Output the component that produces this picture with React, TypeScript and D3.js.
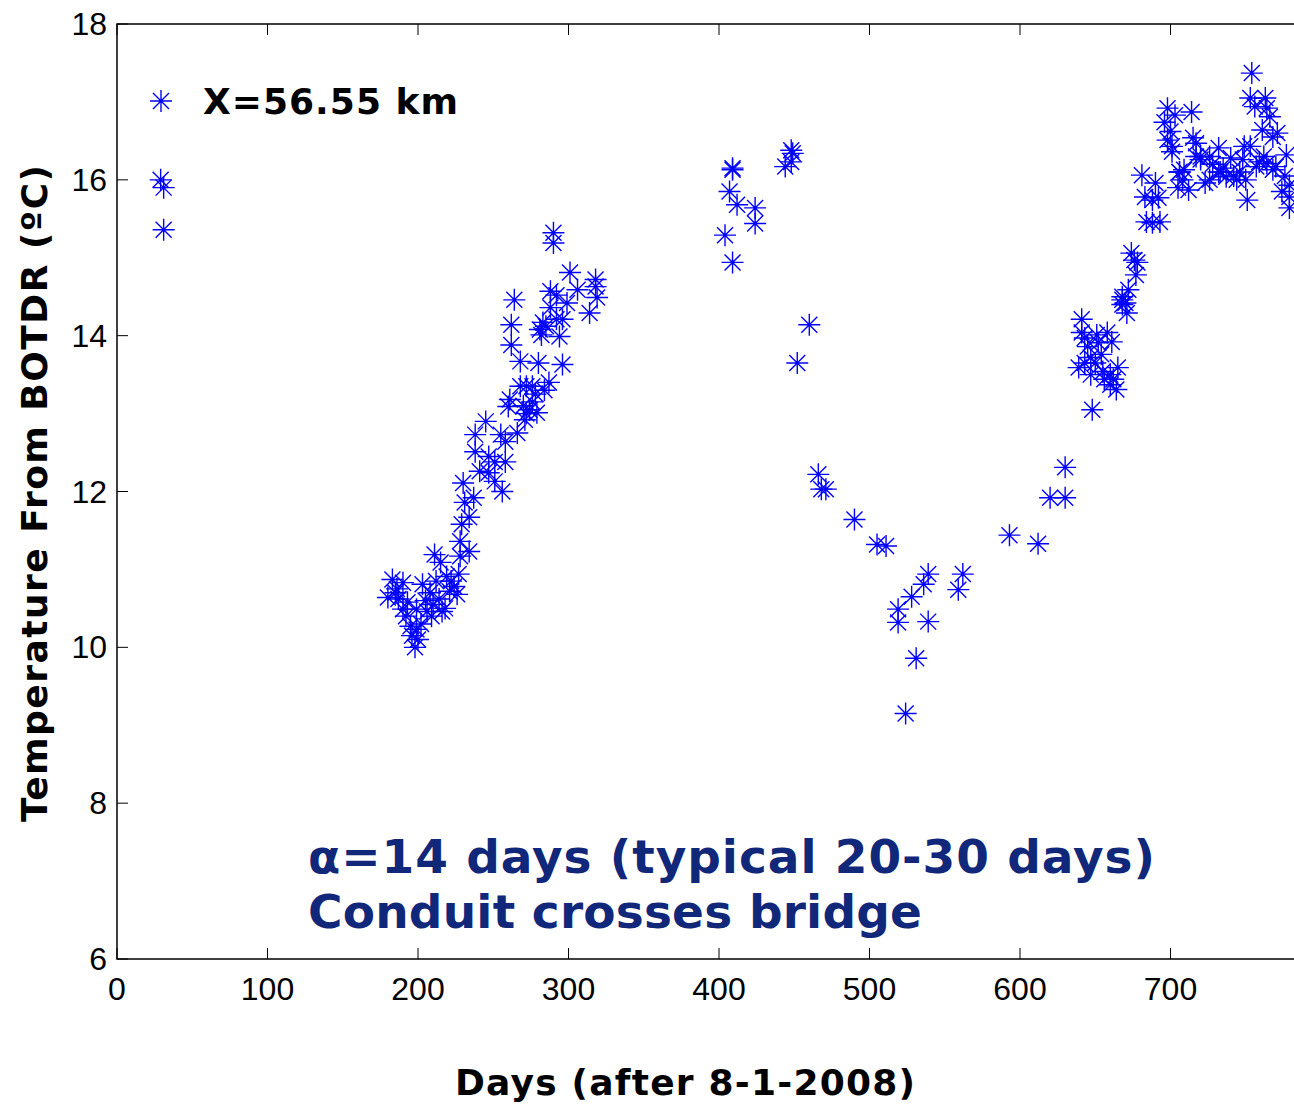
import React from "react";
import * as d3 from "d3";

const xTicks = [0, 100, 200, 300, 400, 500, 600, 700];
const yTicks = [6, 8, 10, 12, 14, 16, 18];

const legendLabel = "X=56.55 km";
const xLabel = "Days (after 8-1-2008)";
const yLabel = "Temperature From BOTDR (ºC)";
const noteLine1 = "α=14 days (typical 20-30 days)";
const noteLine2 = "Conduit crosses bridge";

// Days after 8-1-2008
const days = [
  29, 31, 31,
  180, 183, 187, 190, 190, 193, 195, 199, 199, 200, 198, 203, 206, 208, 212, 215, 216,
  219, 221, 226, 227, 211, 228, 228, 229, 234, 234, 231, 237, 230, 241, 247, 251, 256,
  247, 251, 258, 238, 238, 255, 258, 245, 260, 272, 185, 192, 205, 210, 214, 222, 224,
  202, 196, 218, 186, 209,
  290, 290, 301, 318, 318, 306, 288, 292, 264, 319, 299, 288, 314, 283, 292, 296, 262,
  281, 285, 282, 294, 262, 268, 280, 296, 268, 272, 276, 261, 276, 274, 279, 271, 266,
  284, 278, 270, 287,
  409, 409, 407, 412, 424, 424, 404, 409, 448, 449, 448, 444, 460, 452,
  466, 468, 471, 490, 505, 511, 539, 536, 528, 562, 559, 519, 519, 539, 531, 524,
  593, 612, 620, 630, 630,
  641, 641, 643, 651, 658, 661, 645, 652, 647, 654, 639, 643, 650, 647, 655, 660, 665,
  656, 662, 660, 664, 648, 668, 671, 668,
  681, 690, 683, 692, 688, 684, 693, 688, 706, 709, 705, 712, 708, 723, 720, 726, 732,
  737, 744, 750, 751, 759, 768, 774, 779, 701, 674, 676, 678, 677, 672, 668, 670,
  754, 698, 703, 714, 753, 763, 756, 764, 766, 696, 700, 698, 701, 761, 768, 771, 777,
  715, 717, 732, 749, 753, 740, 748, 717, 720, 757, 764, 706, 733, 770, 779, 779, 776,
  728, 735, 742, 746, 726, 762,
];

const temps = [
  16.0, 15.9, 15.36,
  10.64, 10.87, 10.62, 10.83, 10.49, 10.58, 10.27, 10.49, 10.23, 10.1, 10.0, 10.81, 10.46, 10.7, 10.85, 11.09, 10.46,
  10.91, 10.72, 10.68, 10.94, 11.19, 11.17, 11.36, 11.58, 11.23, 11.67, 11.86, 11.92, 12.11, 12.26, 12.24, 12.13, 12.0,
  12.45, 12.38, 12.38, 12.51, 12.73, 12.73, 12.64, 12.9, 13.09, 13.0, 10.7, 10.4, 10.6, 10.55, 10.62, 10.85, 10.78,
  10.3, 10.15, 10.5, 10.75, 10.4,
  15.32, 15.19, 14.81, 14.72, 14.63, 14.59, 14.57, 14.52, 14.46, 14.49, 14.42, 14.36, 14.29, 14.17, 14.21, 14.21, 14.14,
  14.08, 14.12, 14.01, 13.99, 13.88, 13.67, 13.65, 13.63, 13.35, 13.35, 13.35, 13.18, 13.15, 13.05, 13.01, 12.92, 12.75,
  13.3, 13.25, 13.1, 13.4,
  16.13, 16.15, 15.85, 15.68, 15.64, 15.44, 15.29, 14.94, 16.38, 16.34, 16.23, 16.17, 14.14, 13.65,
  12.22, 12.03, 12.03, 11.64, 11.32, 11.3, 10.94, 10.81, 10.65, 10.94, 10.74, 10.49, 10.32, 10.33, 9.86, 9.15,
  11.44, 11.33, 11.92, 12.31, 11.92,
  14.21, 14.04, 13.97, 14.01, 14.04, 13.92, 13.86, 13.91, 13.72, 13.76, 13.59, 13.65, 13.65, 13.5, 13.54, 13.5, 13.59,
  13.44, 13.44, 13.37, 13.31, 13.05, 14.4, 14.29, 14.46,
  16.06, 15.96, 15.78, 15.77, 15.74, 15.46, 15.46, 15.45, 16.1, 16.13, 15.9, 15.87, 16.0, 15.96, 16.3, 16.3, 16.1,
  16.04, 16.0, 16.0, 15.74, 16.23, 16.13, 15.85, 15.78, 16.36, 15.06, 14.97, 14.94, 14.78, 14.59, 14.5, 14.42,
  17.37, 16.92, 16.83, 16.87, 17.05, 17.05, 16.94, 16.92, 16.81, 16.74, 16.62, 16.51, 16.43, 16.64, 16.55, 16.6, 16.32,
  16.54, 16.47, 16.41, 16.43, 16.43, 16.28, 16.26, 16.3, 16.26, 16.17, 16.21, 16.1, 16.1, 16.17, 15.93, 15.64, 16.05,
  16.2, 16.15, 16.05, 16.1, 16.0, 16.3,
];

const W = 1294;
const H = 1104;
const left = 117;
const top = 24;
const bottom = 959;

const x = d3.scaleLinear().domain([0, 800]).range([left, left + 800 * 1.505]);
const y = d3.scaleLinear().domain([6, 18]).range([bottom, top]);

const R = 11;
const D = 8;
const markerPath = `M${-R},0H${R}M0,${-R}V${R}M${-D},${-D}L${D},${D}M${-D},${D}L${D},${-D}`;

const boldFont = "'DejaVu Sans', Verdana, sans-serif";

export default function App() {
  const right = x(800);
  const pts = days.map((d, i) => [x(d), y(temps[i])]);
  return (
    <svg
      width={W}
      height={H}
      style={{ position: "absolute", left: 0, top: 0, background: "#fff" }}
    >
      <rect x={0} y={0} width={W} height={H} fill="#fff" />
      <path
        d={`M${left},${bottom}V${top}H${right}V${bottom}Z`}
        fill="none"
        stroke="#000"
        strokeWidth={1.5}
      />
      {xTicks.map((t) => (
        <g key={"x" + t}>
          <line x1={x(t)} x2={x(t)} y1={bottom} y2={bottom - 11} stroke="#000" strokeWidth={1} />
          <line x1={x(t)} x2={x(t)} y1={top} y2={top + 11} stroke="#000" strokeWidth={1} />
          <text
            x={x(t)}
            y={1000}
            textAnchor="middle"
            fontFamily="'Liberation Sans', Arial, sans-serif"
            fontSize={32}
            fill="#000"
          >
            {t}
          </text>
        </g>
      ))}
      {yTicks.map((t) => (
        <g key={"y" + t}>
          <line x1={left} x2={left + 11} y1={y(t)} y2={y(t)} stroke="#000" strokeWidth={1} />
          <text
            x={107}
            y={y(t) + 11}
            textAnchor="end"
            fontFamily="'Liberation Sans', Arial, sans-serif"
            fontSize={32}
            fill="#000"
          >
            {t}
          </text>
        </g>
      ))}
      <g stroke="#0000ff" strokeWidth={1.4} fill="none">
        {pts.map(([px, py], i) => (
          <path key={i} d={markerPath} transform={`translate(${px},${py})`} />
        ))}
        <path d={markerPath} transform={`translate(161,101)`} />
      </g>
      <text
        x={203}
        y={114}
        fontFamily={boldFont}
        fontWeight="bold"
        fontSize={36}
        textLength={255}
        lengthAdjust="spacing"
        fill="#000"
      >
        {legendLabel}
      </text>
      <text
        x={308}
        y={873}
        fontFamily={boldFont}
        fontWeight="bold"
        fontSize={47}
        textLength={847}
        lengthAdjust="spacing"
        fill="#10277a"
      >
        {noteLine1}
      </text>
      <text
        x={308}
        y={928}
        fontFamily={boldFont}
        fontWeight="bold"
        fontSize={47}
        textLength={614}
        lengthAdjust="spacing"
        fill="#10277a"
      >
        {noteLine2}
      </text>
      <text
        x={455}
        y={1095}
        fontFamily={boldFont}
        fontWeight="bold"
        fontSize={36}
        textLength={460}
        lengthAdjust="spacing"
        fill="#000"
      >
        {xLabel}
      </text>
      <text
        transform={`translate(47,822) rotate(-90)`}
        fontFamily={boldFont}
        fontWeight="bold"
        fontSize={36}
        textLength={657}
        lengthAdjust="spacing"
        fill="#000"
      >
        {yLabel}
      </text>
    </svg>
  );
}
